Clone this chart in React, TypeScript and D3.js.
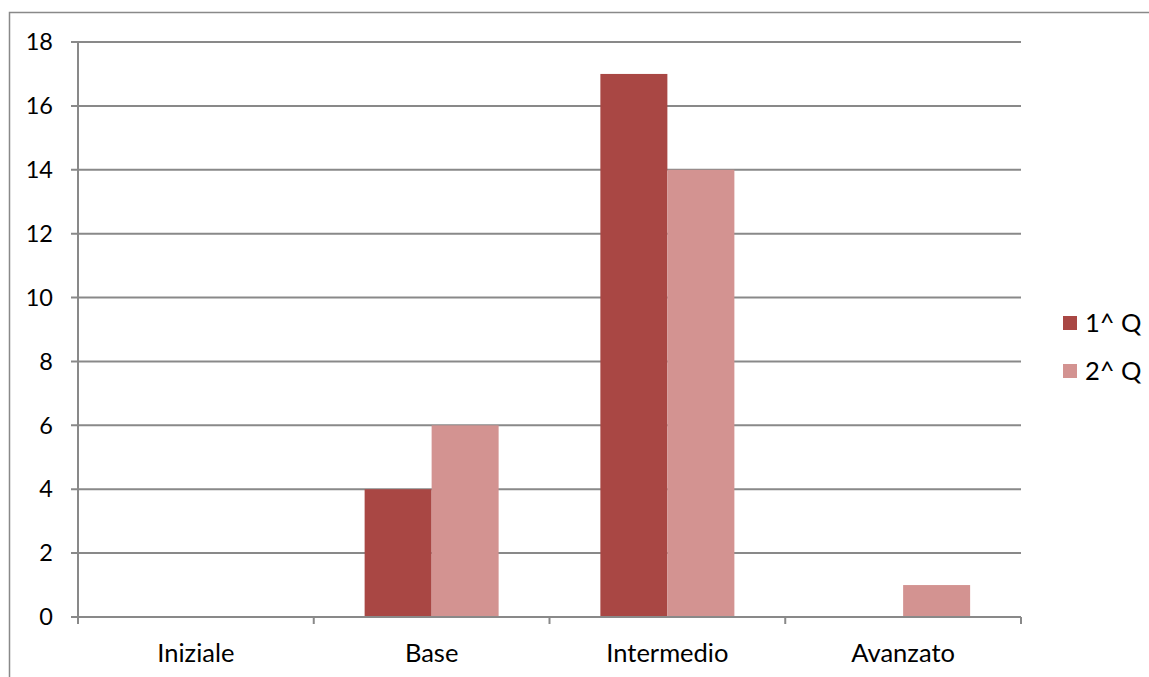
import React, { useEffect, useRef } from "react";
import * as d3 from "d3";

const categories = ["Iniziale", "Base", "Intermedio", "Avanzato"];
const seriesNames = ["1^ Q", "2^ Q"];
const q1Values = [0, 4, 17, 0];
const q2Values = [0, 6, 14, 1];
const yTicks = [0, 2, 4, 6, 8, 10, 12, 14, 16, 18];
const colors = ["#A94744", "#D39391"];

export default function App() {
  const ref = useRef<SVGSVGElement | null>(null);
  useEffect(() => {
    const svg = d3.select(ref.current);
    svg.selectAll("*").remove();
    const W = 1149, H = 677;
    const left = 78, right = 1021, top = 42, bottom = 617;
    const font = "Lato, 'Open Sans', sans-serif";
    const fsY = 23.5;
    const fsX = 25.5;
    const grid = "#898989";

    svg.append("path").attr("d", `M${W},12.5H9.5V${H}`)
      .attr("fill", "none").attr("stroke", grid).attr("stroke-width", 1.5);

    const x = d3.scaleBand().domain(categories).range([left, right]);
    const y = d3.scaleLinear().domain([0, 18]).range([bottom, top]);
    const barW = 67;
    const x1 = d3.scaleBand().domain(seriesNames).range([0, barW * 2]);

    yTicks.forEach((t) => {
      svg.append("line").attr("x1", left - 7).attr("x2", right).attr("y1", y(t)).attr("y2", y(t))
        .attr("stroke", grid).attr("stroke-width", 2);
      svg.append("text").attr("x", 53).attr("y", y(t)).attr("dy", "0.35em").attr("text-anchor", "end")
        .attr("font-family", font).attr("font-size", fsY).attr("fill", "#000").text(String(t));
    });
    svg.append("line").attr("x1", left).attr("x2", left).attr("y1", top).attr("y2", bottom)
      .attr("stroke", grid).attr("stroke-width", 2);

    const data = [q1Values, q2Values];
    categories.forEach((c, i) => {
      const bx = (x(c) as number) + (x.bandwidth() - barW * 2) / 2;
      data.forEach((vals, s) => {
        const v = vals[i];
        if (v > 0) {
          svg.append("rect").attr("x", bx + (x1(seriesNames[s]) as number)).attr("y", y(v))
            .attr("width", x1.bandwidth()).attr("height", y(0) - y(v)).attr("fill", colors[s]);
        }
      });
      svg.append("text").attr("x", (x(c) as number) + x.bandwidth() / 2).attr("y", 662)
        .attr("text-anchor", "middle").attr("font-family", font).attr("font-size", fsX).attr("fill", "#000").text(c);
    });
    svg.append("line").attr("x1", left).attr("x2", right).attr("y1", y(0)).attr("y2", y(0))
      .attr("stroke", grid).attr("stroke-width", 2);
    const edges = categories.map((c) => x(c) as number).concat([right]);
    edges.forEach((e) => {
      svg.append("line").attr("x1", e).attr("x2", e).attr("y1", y(0)).attr("y2", y(0) + 7)
        .attr("stroke", grid).attr("stroke-width", 2);
    });

    seriesNames.forEach((n, i) => {
      const ly = 323 + i * 48;
      svg.append("rect").attr("x", 1063).attr("y", ly - 7).attr("width", 14).attr("height", 14).attr("fill", colors[i]);
      svg.append("text").attr("x", 1085).attr("y", ly + 9).attr("font-family", font)
        .attr("font-size", fsX).attr("fill", "#000").text(n);
    });
  }, []);
  return (
    <svg ref={ref} width={1149} height={677}
      style={{ position: "absolute", left: 0, top: 0, display: "block", background: "#fff" }} />
  );
}
